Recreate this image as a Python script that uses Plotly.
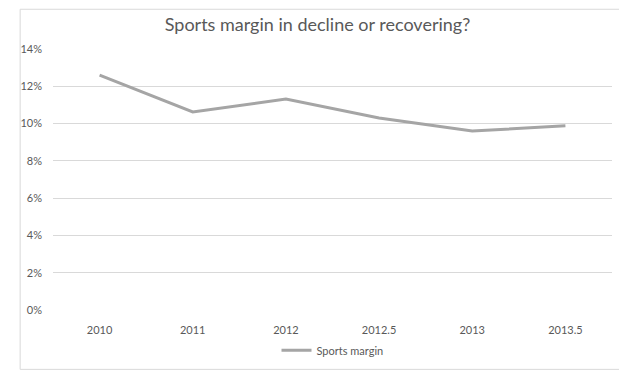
import plotly.graph_objects as go

categories = ["2010", "2011", "2012", "2012.5", "2013", "2013.5"]
sports_margin = [0.126, 0.1062, 0.1132, 0.103, 0.096, 0.0988]
y_ticks = [0, 0.02, 0.04, 0.06, 0.08, 0.10, 0.12, 0.14]

# page body adds an 8px offset; size the figure to fit the window
OFF = 8
W, H = 627 - OFF, 377 - OFF
ml, mt = 42 - OFF, 49 - OFF
plot_right, plot_bottom = 612 - OFF, 315 - OFF
mr, mb = W - plot_right, H - plot_bottom
pw = W - ml - mr
ph = H - mt - mb

fig = go.Figure()
fig.add_trace(go.Scatter(
    x=categories, y=sports_margin, mode="lines", name="Sports margin",
    line=dict(color="#A5A5A5", width=3),
))

fig.update_layout(
    width=W, height=H,
    margin=dict(l=ml, r=mr, t=mt, b=mb),
    paper_bgcolor="white", plot_bgcolor="white",
    font=dict(family="Lato, Open Sans, sans-serif", color="#595959", size=11),
    title=dict(text="Sports margin in decline or recovering?", x=0.5, xanchor="center",
               y=1 - (25 - OFF) / H, yanchor="middle",
               font=dict(size=18, color="#595959")),
    xaxis=dict(type="category", range=[-0.5, 5.5], showgrid=False, zeroline=False,
               showline=False, ticks="", ticklabelstandoff=12,
               tickfont=dict(size=11, color="#595959")),
    yaxis=dict(range=[0, 0.14], tickvals=y_ticks, tickformat=".0%",
               showgrid=True, gridcolor="#D9D9D9", gridwidth=1,
               zeroline=False, showline=False, ticks="", ticklabelstandoff=10,
               tickfont=dict(size=11, color="#595959")),
    showlegend=True,
    legend=dict(orientation="h", x=0.5, xanchor="center",
                y=-((356 - OFF) - plot_bottom) / ph,
                yanchor="middle", font=dict(size=11, color="#595959")),
    shapes=[dict(type="rect", xref="paper", yref="paper",
                 x0=-(ml - 0.5) / pw, x1=1 + (mr - 1.5) / pw,
                 y0=-(mb - 1.5) / ph, y1=1 + (mt - 0.5) / ph,
                 line=dict(color="#D9D9D9", width=1), layer="below")],
)

fig.write_html("out.html")
